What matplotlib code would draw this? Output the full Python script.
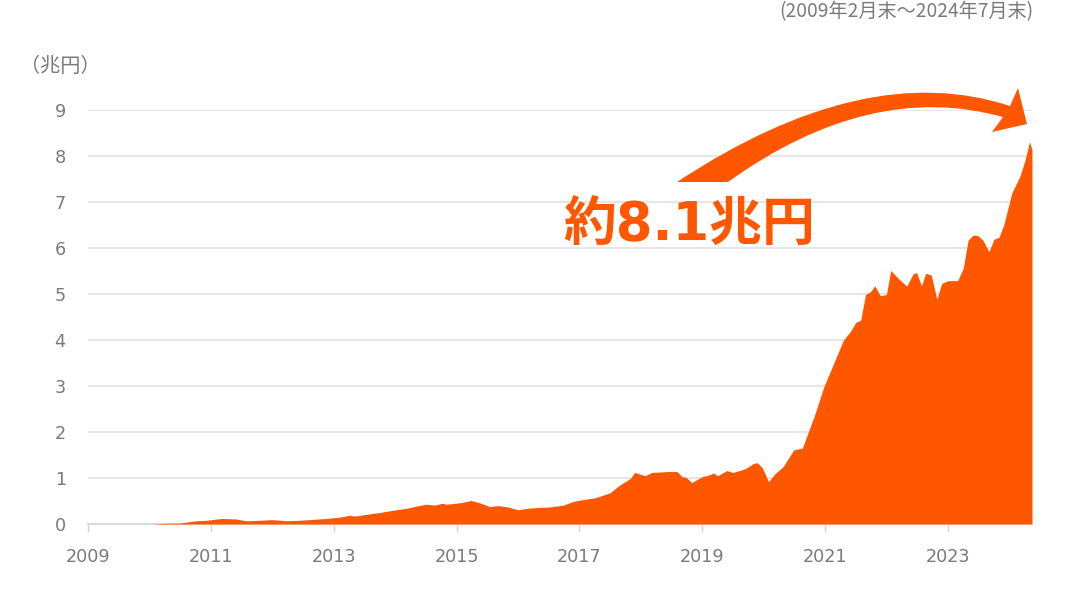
import matplotlib
matplotlib.use("Agg")
import matplotlib.pyplot as plt
from matplotlib.path import Path
from matplotlib.patches import PathPatch

# ---- data (trillion yen), x in decimal years ----
years = [2009.00, 2010.05, 2010.13, 2010.49, 2010.76, 2010.92, 2011.17, 2011.41, 2011.57, 2011.79,
         2012.00, 2012.23, 2012.44, 2012.66, 2012.88, 2013.10, 2013.26, 2013.34, 2013.53, 2013.75,
         2013.97, 2014.18, 2014.35, 2014.51, 2014.65, 2014.76, 2014.84, 2015.05, 2015.24, 2015.38,
         2015.54, 2015.68, 2015.84, 2016.00, 2016.14, 2016.33, 2016.52, 2016.74, 2016.90, 2017.10,
         2017.26, 2017.50, 2017.66, 2017.83, 2017.90, 2018.07, 2018.18, 2018.43, 2018.59, 2018.67,
         2018.74, 2018.83, 2019.00, 2019.10, 2019.18, 2019.25, 2019.40, 2019.50, 2019.70, 2019.84,
         2019.90, 2019.98, 2020.08, 2020.19, 2020.32, 2020.49, 2020.63, 2020.82, 2020.98, 2021.14,
         2021.30, 2021.41, 2021.50, 2021.58, 2021.66, 2021.74, 2021.81, 2021.90, 2022.00, 2022.07,
         2022.20, 2022.33, 2022.43, 2022.49, 2022.57, 2022.64, 2022.73, 2022.82, 2022.90, 2023.00,
         2023.16, 2023.25, 2023.33, 2023.41, 2023.49, 2023.57, 2023.67, 2023.75, 2023.83, 2023.91,
         2024.04, 2024.17, 2024.25, 2024.33, 2024.37]
values = [0.0, 0.0, 0.01, 0.02, 0.07, 0.08, 0.12, 0.11, 0.07, 0.08,
          0.095, 0.07, 0.08, 0.10, 0.12, 0.15, 0.19, 0.17, 0.21, 0.25,
          0.30, 0.34, 0.39, 0.43, 0.41, 0.45, 0.43, 0.46, 0.51, 0.46,
          0.38, 0.40, 0.37, 0.31, 0.34, 0.36, 0.37, 0.41, 0.49, 0.54,
          0.57, 0.68, 0.85, 0.99, 1.12, 1.05, 1.12, 1.14, 1.14, 1.03,
          1.01, 0.90, 1.03, 1.06, 1.11, 1.05, 1.16, 1.12, 1.20, 1.32,
          1.33, 1.22, 0.92, 1.10, 1.25, 1.61, 1.65, 2.33, 2.98, 3.49,
          4.00, 4.18, 4.38, 4.43, 4.99, 5.05, 5.18, 4.96, 4.99, 5.51,
          5.33, 5.17, 5.43, 5.47, 5.18, 5.45, 5.41, 4.89, 5.23, 5.29,
          5.29, 5.56, 6.17, 6.28, 6.27, 6.17, 5.92, 6.19, 6.23, 6.50,
          7.19, 7.55, 7.88, 8.31, 8.13]

xticks = [2009, 2011, 2013, 2015, 2017, 2019, 2021, 2023]
xtick_labels = ["2009", "2011", "2013", "2015", "2017", "2019", "2021", "2023"]
yticks = [0, 1, 2, 3, 4, 5, 6, 7, 8, 9]

ORANGE = "#ff5700"
GRAY = "#7a7a7a"
GRID = "#e0e0e0"
CJK = ["Noto Sans CJK JP", "DejaVu Sans"]

W, H = 1073, 601
fig = plt.figure(figsize=(W / 100, H / 100), dpi=100)
ax = fig.add_axes([88 / W, 1 - 524 / H, (1032 - 88) / W, (524 - 110) / H])

ax.fill_between(years, values, 0, color=ORANGE, linewidth=0, zorder=3)
ax.set_xlim(2009, years[-1])
ax.set_ylim(0, 9)

ax.set_yticks(yticks)
ax.set_yticklabels([str(v) for v in yticks])
ax.set_xticks(xticks)
ax.set_xticklabels(xtick_labels)
ax.grid(axis="y", color=GRID, linewidth=1.2, zorder=0)
ax.set_axisbelow(True)
for s in ["top", "right", "left"]:
    ax.spines[s].set_visible(False)
ax.spines["bottom"].set_color("#d6d6d6")
ax.spines["bottom"].set_linewidth(1.2)
ax.tick_params(axis="y", length=0, pad=16, labelsize=12.7, labelcolor=GRAY)
ax.tick_params(axis="x", length=6, width=1, color="#d6d6d6", pad=11, labelsize=12.7, labelcolor=GRAY)
for lab in ax.get_xticklabels() + ax.get_yticklabels():
    lab.set_family("DejaVu Sans")

# unit label & period note
fig.text(20 / W, 1 - 66 / H, "（兆円）", family=CJK, fontsize=14.5, color=GRAY,
         ha="left", va="center")
fig.text(1033 / W, 1 - 12 / H, "(2009年2月末～2024年7月末)", family=CJK, fontsize=13.8,
         color=GRAY, ha="right", va="center")

# curved arrow (decoration) in figure pixel coordinates
def P(x, y):
    return (x / W, 1 - y / H)

verts = [P(677, 182), P(865, 58), P(1010, 106),
         P(1018, 88), P(1027, 124), P(992, 132), P(1003, 117),
         P(870, 80), P(728, 182), P(677, 182)]
codes = [Path.MOVETO, Path.CURVE3, Path.CURVE3,
         Path.LINETO, Path.LINETO, Path.LINETO, Path.LINETO,
         Path.CURVE3, Path.CURVE3, Path.CLOSEPOLY]
arrow = PathPatch(Path(verts, codes), transform=fig.transFigure, facecolor=ORANGE,
                  edgecolor="none", zorder=5)
fig.patches.append(arrow)

fig.text(689 / W, 1 - 226 / H, "約8.1兆円", family=["DejaVu Sans", "Noto Sans CJK JP"],
         fontsize=38, fontweight="bold", color=ORANGE, ha="center", va="center")

fig.savefig("out.png", dpi=100, facecolor="white")
